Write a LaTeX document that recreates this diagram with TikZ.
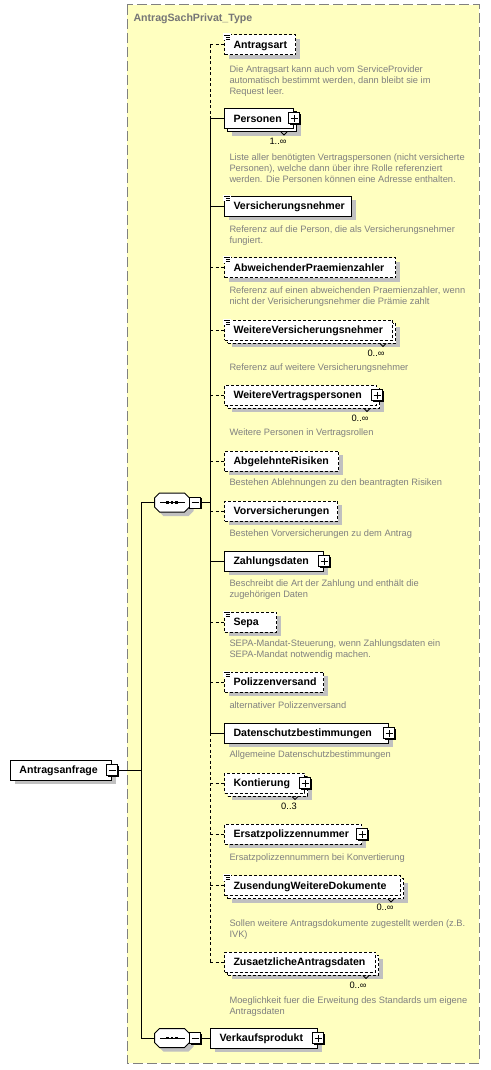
\documentclass[tikz,border=0pt]{standalone}
\usepackage{fontspec}
\setmainfont{Liberation Sans}
\usetikzlibrary{shadows}
\definecolor{bgyellow}{RGB}{255,255,192}
\definecolor{bordergray}{RGB}{128,128,128}
\definecolor{descgray}{RGB}{128,128,128}
\definecolor{titlegray}{RGB}{118,118,118}
\definecolor{shadowgray}{RGB}{192,192,192}
\newcommand\namefont{\fontsize{10.6}{12}\selectfont\bfseries}
\newcommand\descfont{\fontsize{9.3}{10.8}\selectfont}
\newcommand\lbl[2]{\hbox to #1{#2\hfil}}
\newcommand\docicon[1]{%
  \fill[white] ([xshift=-1pt,yshift=1pt]#1.north west) rectangle ([xshift=6.5pt,yshift=-5.5pt]#1.north west);
  \draw[line width=0.9pt] ([yshift=-0.5pt]#1.north west) -- ++(6pt,0pt);
  \draw[line width=0.9pt] ([xshift=2pt,yshift=-2.5pt]#1.north west) -- ++(4pt,0pt);
  \draw[line width=0.9pt] ([xshift=2pt,yshift=-4.5pt]#1.north west) -- ++(4pt,0pt);}
\newcommand\notchmark[1]{%
  \draw[line width=0.8pt] ([xshift=-13pt,yshift=-3pt]#1.south east) -- ([xshift=-10pt,yshift=-6pt]#1.south east) -- ([xshift=-7pt,yshift=-3pt]#1.south east);}
\newcommand\seqshape[1]{%
  \fill[shadowgray, transform canvas={xshift=4pt,yshift=-4pt}] ([xshift=5pt]#1.north west) -- ([xshift=-5pt]#1.north east) -- ([yshift=-5pt]#1.north east) -- ([yshift=5pt]#1.south east) -- ([xshift=-5pt]#1.south east) -- ([xshift=5pt]#1.south west) -- ([yshift=5pt]#1.south west) -- ([yshift=-5pt]#1.north west) -- cycle;
  \draw[fill=white, line width=1pt] ([xshift=5pt]#1.north west) -- ([xshift=-5pt]#1.north east) -- ([yshift=-5pt]#1.north east) -- ([yshift=5pt]#1.south east) -- ([xshift=-5pt]#1.south east) -- ([xshift=5pt]#1.south west) -- ([yshift=5pt]#1.south west) -- ([yshift=-5pt]#1.north west) -- cycle;
  \draw[line width=1pt] ([xshift=5.5pt]#1.west) -- ([xshift=-5pt]#1.east);
  \fill ([xshift=-5.75pt,yshift=-1.4pt]#1.center) rectangle ++(2.8pt,2.8pt);
  \fill ([xshift=-1.4pt,yshift=-1.4pt]#1.center) rectangle ++(2.8pt,2.8pt);
  \fill ([xshift=2.95pt,yshift=-1.4pt]#1.center) rectangle ++(2.8pt,2.8pt);}
\begin{document}
\begin{tikzpicture}[x=1pt, y=-1pt, line width=1pt,
  elem/.style={draw=black, fill=white, anchor=west, minimum height=20pt, inner xsep=9pt, inner ysep=0pt, font=\namefont, text height=7.5pt, text depth=0.5pt},
  optbox/.style={dash pattern=on 3pt off 2pt},
  shad1/.style={general shadow={fill=shadowgray, draw=none, shadow xshift=4pt, shadow yshift=-4pt}},
  multireq/.style={general shadow={fill=shadowgray, draw=none, shadow xshift=7pt, shadow yshift=-7pt}, general shadow={fill=white, draw=black, solid, shadow xshift=3pt, shadow yshift=-3pt}},
  multiopt/.style={general shadow={fill=shadowgray, draw=none, shadow xshift=7pt, shadow yshift=-7pt}, general shadow={fill=white, draw=black, dash pattern=on 3pt off 2pt, shadow xshift=3pt, shadow yshift=-3pt}},
  desc/.style={anchor=north west, inner sep=0pt, align=left, font=\descfont, text=descgray},
  mult/.style={inner sep=0pt, font=\descfont, text=black},
  reqc/.style={draw=black, line width=1pt},
  optc/.style={draw=black, line width=1pt, dash pattern=on 3pt off 2.5pt},
  pmbox/.style={draw=black, fill=white, minimum size=11pt, inner sep=0pt, line width=1pt, solid, general shadow={fill=black, draw=none, shadow xshift=1pt, shadow yshift=-1pt}},
  pbox/.style={pmbox, path picture={
    \draw[line width=1pt] ([xshift=-3.5pt]path picture bounding box.center) -- ([xshift=3.5pt]path picture bounding box.center);
    \draw[line width=1pt] ([yshift=-3.5pt]path picture bounding box.center) -- ([yshift=3.5pt]path picture bounding box.center);}},
  mbox/.style={pmbox, path picture={
    \draw[line width=1pt] ([xshift=-3.5pt]path picture bounding box.center) -- ([xshift=3.5pt]path picture bounding box.center);}},
  seqbox/.style={minimum width=34pt, minimum height=18pt, inner sep=0pt}
]
\useasboundingbox (0,0) rectangle (490,1070);
\fill[white] (0,0) rectangle (490,1070);
\draw[bordergray, fill=bgyellow, line width=1pt, dash pattern=on 10pt off 4pt] (127,5) rectangle (479,1063);
\node[anchor=west, inner sep=0pt, font=\namefont, text=titlegray] (title) at (133,18.5) {AntragSachPrivat\_Type};

% elements
\node[elem, optbox, shad1] (antragsart) at (224,45) {\lbl{53pt}{Antragsart}};
\node[elem, multireq] (personen) at (224,118.5) {\lbl{51pt}{Personen}};
\node[elem, shad1] (versnehmer) at (224,206) {\lbl{109pt}{Versicherungsnehmer}};
\node[elem, optbox, shad1] (abweichend) at (224,267.5) {\lbl{153pt}{AbweichenderPraemienzahler}};
\node[elem, optbox, multiopt] (weitereVN) at (224,330) {\lbl{150pt}{WeitereVersicherungsnehmer}};
\node[elem, optbox, multiopt] (weitereVP) at (224,395) {\lbl{134pt}{WeitereVertragspersonen}};
\node[elem, optbox, shad1] (abgelehnt) at (224,461) {\lbl{96pt}{AbgelehnteRisiken}};
\node[elem, optbox, shad1] (vorvers) at (224,511) {\lbl{95pt}{Vorversicherungen}};
\node[elem, shad1] (zahlung) at (224,561) {\lbl{81pt}{Zahlungsdaten}};
\node[elem, optbox, shad1] (sepa) at (224,622) {\lbl{34pt}{Sepa}};
\node[elem, optbox, shad1] (polizzen) at (224,682) {\lbl{81pt}{Polizzenversand}};
\node[elem, shad1] (datenschutz) at (224,733) {\lbl{146pt}{Datenschutzbestimmungen}};
\node[elem, optbox, multiopt] (kontierung) at (224,783) {\lbl{62pt}{Kontierung}};
\node[elem, optbox, shad1] (ersatz) at (224,834) {\lbl{119pt}{Ersatzpolizzennummer}};
\node[elem, optbox, multiopt] (zusendung) at (224,885.5) {\lbl{158pt}{ZusendungWeitereDokumente}};
\node[elem, optbox, multiopt] (zusaetzlich) at (224,962) {\lbl{133pt}{ZusaetzlicheAntragsdaten}};
\node[elem, shad1] (verkauf) at (210,1038) {\lbl{89pt}{Verkaufsprodukt}};
\node[elem, shad1] (aa) at (10,770) {\lbl{83pt}{Antragsanfrage}};

% icons and notches
\docicon{antragsart}
\docicon{versnehmer}
\docicon{abweichend}
\docicon{weitereVN}
\docicon{sepa}
\docicon{polizzen}
\docicon{zusendung}
\notchmark{personen}
\notchmark{weitereVN}
\notchmark{weitereVP}
\notchmark{kontierung}
\notchmark{zusendung}
\notchmark{zusaetzlich}

% plus / minus boxes
\node[pbox] (personenP) at (personen.east) {};
\node[pbox] (weitereVPP) at (weitereVP.east) {};
\node[pbox] (zahlungP) at (zahlung.east) {};
\node[pbox] (datenschutzP) at (datenschutz.east) {};
\node[pbox] (kontierungP) at (kontierung.east) {};
\node[pbox] (ersatzP) at (ersatz.east) {};
\node[pbox] (verkaufP) at (verkauf.east) {};
\node[mbox] (aam) at (aa.east) {};

% sequence compositors
\node[seqbox] (s1) at (172,502.5) {};
\seqshape{s1}
\node[mbox] (s1m) at ([xshift=5.5pt]s1.east) {};
\node[seqbox] (s2) at (172,1038) {};
\seqshape{s2}
\node[mbox] (s2m) at ([xshift=5.5pt]s2.east) {};

% multiplicities
\node[mult] (m1) at (278,141) {1..∞};
\node[mult] (m2) at (376,353) {0..∞};
\node[mult] (m3) at (360,418) {0..∞};
\node[mult] (m4) at (289,806) {0..3};
\node[mult] (m5) at (385,907) {0..∞};
\node[mult] (m6) at (358,985) {0..∞};

% descriptions
\node[desc] (d1) at (229,65.5) {Die Antragsart kann auch vom ServiceProvider\\automatisch bestimmt werden, dann bleibt sie im\\Request leer.};
\node[desc] (d2) at (229,153.5) {Liste aller benötigten Vertragspersonen (nicht versicherte\\Personen), welche dann über ihre Rolle referenziert\\werden. Die Personen können eine Adresse enthalten.};
\node[desc] (d3) at (229,225.5) {Referenz auf die Person, die als Versicherungsnehmer\\fungiert.};
\node[desc] (d4) at (229,286.5) {Referenz auf einen abweichenden Praemienzahler, wenn\\nicht der Verisicherungsnehmer die Prämie zahlt};
\node[desc] (d5) at (229,363.5) {Referenz auf weitere Versicherungsnehmer};
\node[desc] (d6) at (229,428.5) {Weitere Personen in Vertragsrollen};
\node[desc] (d7) at (229,478.5) {Bestehen Ablehnungen zu den beantragten Risiken};
\node[desc] (d8) at (229,529.5) {Bestehen Vorversicherungen zu dem Antrag};
\node[desc] (d9) at (229,579.5) {Beschreibt die Art der Zahlung und enthält die\\zugehörigen Daten};
\node[desc] (d10) at (229,639.5) {SEPA-Mandat-Steuerung, wenn Zahlungsdaten ein\\SEPA-Mandat notwendig machen.};
\node[desc] (d11) at (229,701.5) {alternativer Polizzenversand};
\node[desc] (d12) at (229,750.5) {Allgemeine Datenschutzbestimmungen};
\node[desc] (d14) at (229,853.5) {Ersatzpolizzennummern bei Konvertierung};
\node[desc] (d15) at (229,919.5) {Sollen weitere Antragsdokumente zugestellt werden (z.B.\\IVK)};
\node[desc] (d16) at (229,996.5) {Moeglichkeit fuer die Erweitung des Standards um eigene\\Antragsdaten};

% connectors
\coordinate (tx) at (210,0);
\coordinate (lx) at (141,0);
\foreach \n in {antragsart,abweichend,weitereVN,weitereVP,abgelehnt,vorvers,sepa,polizzen,kontierung,ersatz,zusendung,zusaetzlich}
  \draw[optc] (\n.west -| tx) -- (\n.west);
\foreach \n in {personen,versnehmer,zahlung,datenschutz}
  \draw[reqc] (\n.west -| tx) -- (\n.west);
\draw[optc] (antragsart.west -| tx) -- (personen.west -| tx);
\draw[reqc] (personen.west -| tx) -- (datenschutz.west -| tx);
\draw[optc] (datenschutz.west -| tx) -- (zusaetzlich.west -| tx);
\draw[reqc] (s1m.east) -- (s1m.east -| tx);
\draw[reqc] (s1.west -| lx) -- (s2.west -| lx);
\draw[reqc] (s1.west -| lx) -- (s1.west);
\draw[reqc] (s2.west -| lx) -- (s2.west);
\draw[reqc] (aam.east) -- (aam.east -| lx);
\draw[reqc] (s2m.east) -- (verkauf.west);
\end{tikzpicture}
\end{document}
